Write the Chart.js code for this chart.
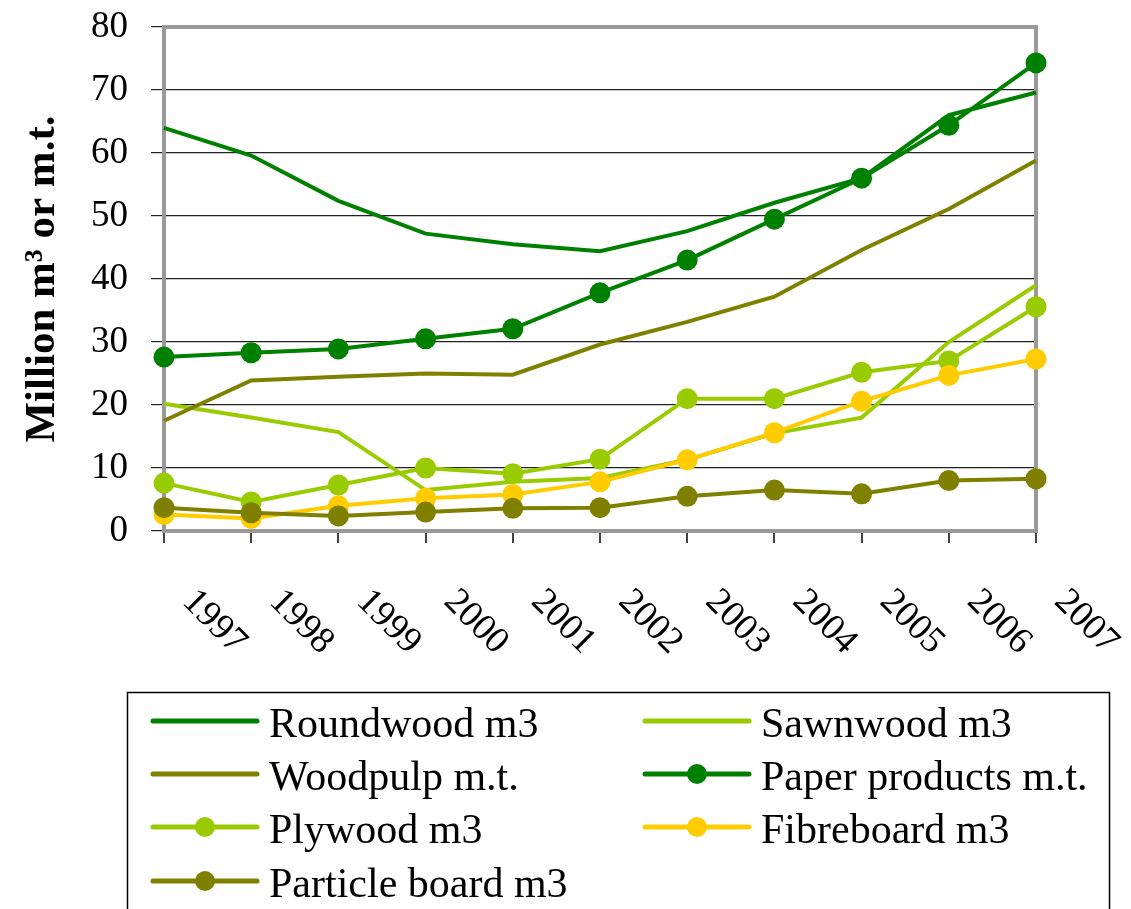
<!DOCTYPE html>
<html>
<head>
<meta charset="utf-8">
<script src="https://cdn.jsdelivr.net/npm/chart.js@4"></script>
<style>
  html, body { margin: 0; padding: 0; background: #fff; }
  #wrap { position: relative; width: 1131px; height: 909px; }
</style>
</head>
<body>
<div id="wrap"><canvas id="c"></canvas></div>
<script>
const years = ['1997','1998','1999','2000','2001','2002','2003','2004','2005','2006','2007'];
const roundwood  = [64.0, 59.6, 52.4, 47.2, 45.5, 44.4, 47.6, 52.1, 56.0, 66.0, 69.6];
const sawnwood   = [20.2, 18.0, 15.7, 6.5, 7.8, 8.4, 11.3, 15.5, 18.0, 30.0, 39.0];
const woodpulp   = [17.5, 23.9, 24.5, 25.0, 24.8, 29.6, 33.2, 37.2, 44.6, 51.1, 58.8];
const paper      = [27.6, 28.3, 28.9, 30.5, 32.1, 37.8, 43.0, 49.5, 56.0, 64.4, 74.3];
const plywood    = [7.6, 4.6, 7.3, 10.0, 9.1, 11.4, 21.0, 21.0, 25.2, 27.0, 35.6];
const fibreboard = [2.6, 2.0, 4.0, 5.2, 5.8, 7.8, 11.3, 15.6, 20.6, 24.7, 27.3];
const particle   = [3.7, 2.9, 2.4, 3.0, 3.6, 3.7, 5.5, 6.5, 5.9, 8.0, 8.3];
const seriesNames = ['Roundwood m3','Sawnwood m3','Woodpulp m.t.','Paper products m.t.','Plywood m3','Fibreboard m3','Particle board m3'];
const yTitle = 'Million m\u00B3 or m.t.';

const DG = '#008000', YG = '#99CC00', OL = '#808000', YE = '#FFCC00';
const FONT = 'Liberation Serif';

function ds(label, data, color, markers, i) {
  return {
    label, data,
    borderColor: color, backgroundColor: color,
    borderWidth: 4,
    pointRadius: markers ? 10.5 : 0,
    pointHoverRadius: markers ? 10.5 : 0,
    pointBorderWidth: 0,
    pointBackgroundColor: color,
    tension: 0,
    clip: false,
    order: -i,
    _markers: markers
  };
}

const datasets = [
  ds(seriesNames[0], roundwood, DG, false, 0),
  ds(seriesNames[1], sawnwood, YG, false, 1),
  ds(seriesNames[2], woodpulp, OL, false, 2),
  ds(seriesNames[3], paper, DG, true, 3),
  ds(seriesNames[4], plywood, YG, true, 4),
  ds(seriesNames[5], fibreboard, YE, true, 5),
  ds(seriesNames[6], particle, OL, true, 6)
];

const frame = {
  id: 'frame',
  beforeDatasetsDraw(chart) {
    const {ctx, chartArea: a} = chart;
    ctx.save();
    ctx.strokeStyle = '#999';
    ctx.lineWidth = 4;
    ctx.strokeRect(a.left, a.top, a.right - a.left, a.bottom - a.top);
    ctx.restore();
  },
  afterDraw(chart) {
    const ctx = chart.ctx;
    const xs = chart.scales.x;
    // rotated x labels (clockwise 45 deg)
    ctx.save();
    ctx.fillStyle = '#000';
    ctx.font = '37px "' + FONT + '"';
    ctx.textAlign = 'left';
    ctx.textBaseline = 'middle';
    years.forEach((lab, i) => {
      const x = xs.getPixelForValue(i) + 24;
      const y = chart.chartArea.bottom + 65;
      ctx.save();
      ctx.translate(x, y);
      ctx.rotate(Math.PI / 4);
      ctx.fillText(lab, 0, 0);
      ctx.restore();
    });
    ctx.restore();

    // legend
    ctx.save();
    ctx.strokeStyle = '#000';
    ctx.lineWidth = 1.5;
    ctx.strokeRect(127.5, 692.5, 982, 300);
    const cols = [151, 643];
    const rows = [721, 774, 827, 881];
    ctx.font = '42px "' + FONT + '"';
    ctx.textBaseline = 'alphabetic';
    ctx.textAlign = 'left';
    chart.data.datasets.forEach((d, i) => {
      const cx = cols[i % 2], cy = rows[Math.floor(i / 2)];
      ctx.strokeStyle = d.borderColor;
      ctx.lineWidth = 5;
      ctx.lineCap = 'round';
      ctx.beginPath();
      ctx.moveTo(cx + 2, cy);
      ctx.lineTo(cx + 106, cy);
      ctx.stroke();
      if (d._markers) {
        ctx.fillStyle = d.borderColor;
        ctx.beginPath();
        ctx.arc(cx + 54, cy, 10, 0, Math.PI * 2);
        ctx.fill();
      }
      ctx.fillStyle = '#000';
      ctx.fillText(d.label, cx + 118, cy + 16);
    });
    ctx.restore();
  }
};

new Chart(document.getElementById('c'), {
  type: 'line',
  data: { labels: years, datasets },
  plugins: [frame],
  options: {
    responsive: true,
    maintainAspectRatio: false,
    animation: false,
    layout: { padding: { top: 27, right: 95, left: 0, bottom: 0 } },
    plugins: { legend: { display: false }, tooltip: { enabled: false } },
    scales: {
      x: {
        type: 'category',
        offset: false,
        grid: { drawOnChartArea: false, drawTicks: true, tickLength: 12, color: '#444', lineWidth: 2 },
        border: { color: '#999', width: 4 },
        ticks: { display: false },
        afterFit(scale) { scale.height = 378; scale.paddingLeft = 0; scale.paddingRight = 0; }
      },
      y: {
        min: 0, max: 80,
        ticks: { stepSize: 10, color: '#000', padding: 23, font: { family: FONT, size: 37 } },
        grid: { color: '#222', lineWidth: 1.2, tickLength: 13 },
        border: { color: '#999', width: 4 },
        title: {
          display: true, text: yTitle, color: '#000',
          font: { family: FONT, size: 43, weight: 'bold' },
          padding: { top: 17, bottom: 0 }
        },
        afterFit(scale) { scale.width = 164; scale.paddingTop = 0; scale.paddingBottom = 0; }
      }
    }
  }
});
</script>
</body>
</html>
